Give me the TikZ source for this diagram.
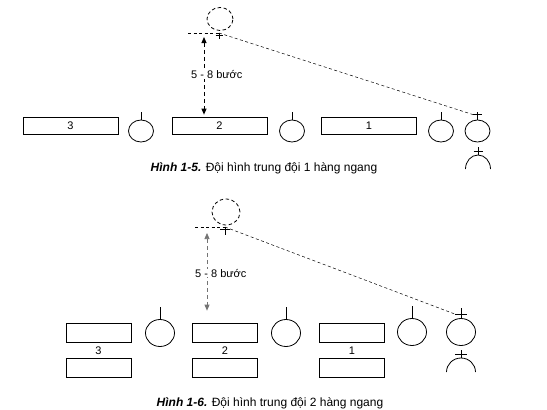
\documentclass[tikz,border=0pt]{standalone}
\usepackage{fontspec}
\setmainfont{Liberation Sans}
\usetikzlibrary{positioning,shapes.geometric,arrows.meta,calc}

\begin{document}
\begin{tikzpicture}[
    x=1pt, y=-1pt,
    font=\fontsize{11}{13}\selectfont,
    squad/.style={draw, line width=0.7pt, minimum width=95pt, minimum height=17pt, inner sep=0pt},
    halfsquad/.style={draw, line width=0.7pt, minimum width=65pt, minimum height=19pt, inner sep=0pt},
    soldier/.style={draw, ellipse, line width=0.8pt, minimum width=25pt, minimum height=22pt, inner sep=0pt},
    bigsoldier/.style={soldier, minimum width=29pt, minimum height=27pt},
    ghost/.style={draw, ellipse, line width=0.8pt, dash pattern=on 3.5pt off 2.5pt, inner sep=0pt},
    trail/.style={line width=0.5pt, dash pattern=on 3pt off 2.5pt},
    gap/.style={{Triangle[length=6pt,width=5pt]}-{Triangle[length=6pt,width=5pt]}, line width=0.9pt, dash pattern=on 4pt off 3pt},
    caption/.style={font=\fontsize{12}{14}\selectfont},
]
\useasboundingbox (0,0) rectangle (547,410);

% ---- Hinh 1-5: one row
\node[squad] (sq3) at (70.5,125.5) {3};
\node[squad] (sq2) at (219.5,125.5) {2};
\node[squad] (sq1) at (369,125.5) {1};

\node[soldier] (m32) at (141,131) {};
\node[soldier] (m21) at (292,131) {};
\node[soldier] (m1)  at (441,131) {};
\node[soldier] (lead) at (477.5,131) {};

\draw[line width=0.6pt] (m32.north) -- ++(0,-8);
\draw[line width=0.6pt] (m21.north) -- ++(0,-8);
\draw[line width=0.6pt] (m1.north)  -- ++(0,-8);
\draw[line width=0.6pt] (lead.north) -- ++(0,-8);
\draw[line width=0.6pt] ([xshift=-4.5pt,yshift=5pt]lead.north) coordinate (leadbar) -- ++(9,0);

% deputy behind
\coordinate (dep) at (478,169);
\draw[line width=0.8pt] ([xshift=-12.5pt]dep) arc[start angle=180, end angle=360, x radius=12.5, y radius=14];
\draw[line width=0.6pt] (478,155) -- (478,147);
\draw[line width=0.6pt] (473.5,151) -- (482.5,151);

% platoon leader in front
\node[ghost, minimum width=26pt, minimum height=23pt] (front) at (220,19) {};
\coordinate (fx) at (219,33);
\coordinate (fl) at (188,33);
\draw[line width=0.6pt] (fx) -- ++(0,6);
\draw[line width=0.6pt] ([xshift=-3.5pt,yshift=-2pt]fx) -- ++(7,0);
\draw[trail] (fl) -- (fx);
\draw[trail] (fx) -- (leadbar);

\coordinate (g1) at (204,37);
\draw[gap, shorten >=2pt] (g1) -- (g1 |- sq2.north);
\node[anchor=west, inner sep=0pt, fill=white] (d1) at (191,75) {5 - 8 bước};

\node[caption] (cap1) at (264,168) {\textbf{\textit{Hình 1-5.}} Đội hình trung đội 1 hàng ngang};

% ---- Hinh 1-6: two rows
\node[halfsquad] (up3) at (98.5,332.5) {};
\node[halfsquad] (up2) at (225,332.5) {};
\node[halfsquad] (up1) at (352,332.5) {};
\node[halfsquad, below=16pt of up3] (lo3) {};
\node[halfsquad, below=16pt of up2] (lo2) {};
\node[halfsquad, below=16pt of up1] (lo1) {};
\node (n3) at ($(up3.south)!0.5!(lo3.north)$) {3};
\node (n2) at ($(up2.south)!0.5!(lo2.north)$) {2};
\node (n1) at ($(up1.south)!0.5!(lo1.north)$) {1};

\node[bigsoldier] (k32) at (160,333) {};
\node[bigsoldier] (k21) at (286,333) {};
\node[bigsoldier] (k1)  at (412,332) {};
\node[bigsoldier] (klead) at (461,332) {};

\draw[line width=0.6pt] (k32.north) -- ++(0,-12);
\draw[line width=0.6pt] (k21.north) -- ++(0,-12);
\draw[line width=0.6pt] (k1.north)  -- ++(0,-12);
\draw[line width=0.6pt] (klead.north) -- ++(0,-10);
\draw[line width=0.6pt] ([xshift=-6pt,yshift=4pt]klead.north) coordinate (kleadbar) -- ++(12,0);

\coordinate (kdep) at (461,372);
\draw[line width=0.8pt] ([xshift=-14.5pt]kdep) arc[start angle=180, end angle=360, x radius=14.5, y radius=14];
\draw[line width=0.6pt] (461,358) -- (461,350);
\draw[line width=0.6pt] (455,354) -- (467,354);

\node[ghost, minimum width=28pt, minimum height=26pt] (kfront) at (226,212) {};
\coordinate (kx) at (225,227);
\coordinate (kl) at (195,227);
\draw[line width=0.6pt] (kx) -- ++(0,8);
\draw[line width=0.6pt] ([xshift=-5pt,yshift=-2pt]kx) -- ++(10,0);
\draw[trail] (kl) -- (kx);
\draw[trail] (kx) -- (kleadbar);

\coordinate (g2) at (207,233);
\draw[gap, black!55, line width=0.7pt, shorten >=12pt] (g2) -- (g2 |- up2.north);
\node[anchor=west, inner sep=0pt, fill=white] (d2) at (195,273) {5 - 8 bước};

\node[caption] (cap2) at (270,403) {\textbf{\textit{Hình 1-6.}} Đội hình trung đội 2 hàng ngang};
\end{tikzpicture}
\end{document}
